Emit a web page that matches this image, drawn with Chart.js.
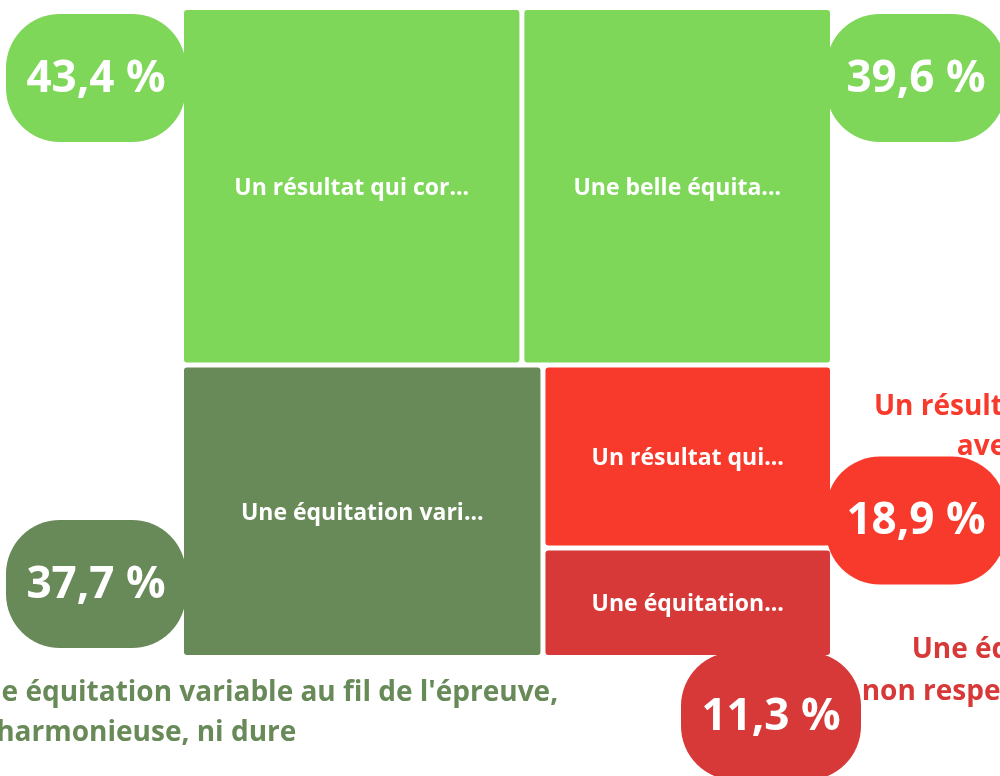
<!DOCTYPE html>
<html>
<head>
<meta charset="utf-8">
<script src="https://cdn.jsdelivr.net/npm/chart.js@4.4.0/dist/chart.umd.min.js"></script>
<style>
  html, body { margin: 0; padding: 0; background: #fff; overflow: hidden; }
  #wrap { width: 1000px; height: 776px; position: relative; }
</style>
</head>
<body>
<div id="wrap"><canvas id="treeChart"></canvas></div>
<script>
// data
const categories = [
  "Un résultat qui correspond à la prestation",
  "Une belle équitation, harmonieuse",
  "Une équitation variable au fil de l'épreuve, ni harmonieuse, ni dure",
  "Un résultat qui ne correspond pas avec la prestation vue",
  "Une équitation dure, non respectueuse du cheval"
];
const shares = [43.4, 39.6, 37.7, 18.9, 11.3];
// long labels written next to the small tiles (line breaks as in the picture)
const sideLabels = [
  [],
  [],
  ["Une équitation variable au fil de l'épreuve,", "ni harmonieuse, ni dure"],
  ["Un résultat qui ne correspond pas", "avec la prestation vue"],
  ["Une équitation dure,", "non respectueuse du cheval"]
];

const colors = ["#7ed758", "#7ed758", "#688a58", "#f73a2b", "#d63937"];
const FONT = "'Open Sans', 'Noto Sans', sans-serif";

// where each percentage bubble sits, relative to its tile
const bubblePlace = [
  { ax: "left", ay: "top", dx: 2, dy: 4 },
  { ax: "right", ay: "top", dx: -4, dy: 4 },
  { ax: "left", ay: "bottom", dx: 2, dy: -7 },
  { ax: "right", ay: "middle", dx: -4, dy: 0 },
  { ax: "center", ay: "below", dx: -59, dy: -3 }
];
// where the long label sits, relative to its bubble
const labelPlace = [
  null,
  null,
  { align: "left", dx: -44, dy: 45, lh: 40 },
  { align: "center", dx: 195, dy: -50, lh: 40 },
  { align: "center", dx: 286, dy: -2, lh: 42 }
];

function worst(row, side) {
  const s = row.reduce((a, b) => a + b, 0);
  const thick = s / side;
  let m = 0;
  row.forEach(a => {
    const len = a / thick;
    m = Math.max(m, len / thick, thick / len);
  });
  return m;
}

// plain squarified treemap in data units
function squarify(vals, x, y, w, h) {
  const total = vals.reduce((a, b) => a + b, 0);
  const areas = vals.map(v => v / total * w * h);
  const out = [];
  let i = 0;
  while (i < areas.length) {
    const horiz = w <= h;
    const side = horiz ? w : h;
    let row = [areas[i]];
    let j = i + 1;
    while (j < areas.length && worst(row.concat(areas[j]), side) <= worst(row, side)) {
      row.push(areas[j]);
      j++;
    }
    const thick = row.reduce((a, b) => a + b, 0) / side;
    let off = 0;
    row.forEach(a => {
      const len = a / thick;
      if (horiz) out.push({ x0: x + off, x1: x + off + len, y0: y, y1: y + thick });
      else out.push({ x0: x, x1: x + thick, y0: y + off, y1: y + off + len });
      off += len;
    });
    if (horiz) { y += thick; h -= thick; } else { x += thick; w -= thick; }
    i = j;
  }
  return out;
}

const tiles = squarify(shares, 0, 0, 1, 1);

function fmt(v) {
  return v.toFixed(1).replace(".", ",") + " %";
}

function fitText(ctx, text, maxW) {
  if (ctx.measureText(text).width <= maxW) return text;
  let t = text;
  while (t.length > 1 && ctx.measureText(t.trimEnd() + "...").width > maxW) {
    t = t.slice(0, -1);
  }
  return t.trimEnd() + "...";
}

function roundRect(ctx, x, y, w, h, r) {
  ctx.beginPath();
  ctx.roundRect(x, y, w, h, r);
  ctx.fill();
}

const treemapPlugin = {
  id: "treemapTiles",
  afterDatasetsDraw(chart) {
    const ctx = chart.ctx;
    const xs = chart.scales.x, ys = chart.scales.y;
    const gap = 2.5;
    const BW = 180, BH = 128, BR = 54;

    const boxes = tiles.map(t => {
      const l = xs.getPixelForValue(t.x0) + gap;
      const r = xs.getPixelForValue(t.x1) - gap;
      const top = ys.getPixelForValue(t.y0) + gap;
      const bot = ys.getPixelForValue(t.y1) - gap;
      return { l, r, top, bot, cx: (l + r) / 2, cy: (top + bot) / 2 };
    });

    const bubbles = boxes.map((b, i) => {
      const p = bubblePlace[i];
      let x0, y0;
      if (p.ax === "left") x0 = b.l + p.dx - BW;
      else if (p.ax === "right") x0 = b.r + p.dx;
      else x0 = b.r + p.dx - BW / 2;
      if (p.ay === "top") y0 = b.top + p.dy;
      else if (p.ay === "bottom") y0 = b.bot + p.dy - BH;
      else if (p.ay === "middle") y0 = b.cy + p.dy;
      else y0 = b.bot + p.dy;
      return { x0, y0, x1: x0 + BW, y1: y0 + BH, cx: x0 + BW / 2, cy: y0 + BH / 2 };
    });

    ctx.save();
    // bubbles sit behind the tiles
    bubbles.forEach((bb, i) => {
      ctx.fillStyle = colors[i];
      roundRect(ctx, bb.x0, bb.y0, BW, BH, BR);
    });

    boxes.forEach((b, i) => {
      ctx.fillStyle = colors[i];
      roundRect(ctx, b.l, b.top, b.r - b.l, b.bot - b.top, 3);
    });

    ctx.textAlign = "center";
    ctx.textBaseline = "middle";
    ctx.fillStyle = "#ffffff";
    ctx.font = "bold 23px " + FONT;
    boxes.forEach((b, i) => {
      const txt = fitText(ctx, categories[i], (b.r - b.l) * 0.70);
      ctx.fillText(txt, b.cx, b.cy + 2);
    });

    ctx.font = "bold 44px " + FONT;
    bubbles.forEach((bb, i) => {
      ctx.fillText(fmt(shares[i]), bb.cx, bb.cy + 1);
    });

    ctx.font = "bold 28px " + FONT;
    bubbles.forEach((bb, i) => {
      const lp = labelPlace[i];
      if (!lp) return;
      ctx.fillStyle = colors[i];
      ctx.textAlign = lp.align;
      const x = lp.align === "left" ? bb.x0 + lp.dx : bb.cx + lp.dx;
      const y = lp.dy >= 0 ? bb.y1 + lp.dy : bb.y0 + lp.dy;
      sideLabels[i].forEach((line, k) => ctx.fillText(line, x, y + k * lp.lh));
    });
    ctx.restore();
  }
};

const ctx = document.getElementById("treeChart").getContext("2d");
const treeChart = new Chart(ctx, {
  type: "scatter",
  data: {
    datasets: [{
      label: "Réponses",
      data: tiles.map((t, i) => ({ x: (t.x0 + t.x1) / 2, y: (t.y0 + t.y1) / 2, v: shares[i] })),
      pointRadius: 0,
      pointHoverRadius: 0
    }]
  },
  options: {
    responsive: true,
    maintainAspectRatio: false,
    animation: false,
    layout: { padding: { left: 181.5, right: 167.5, top: 7.5, bottom: 118.5 } },
    plugins: { legend: { display: false }, tooltip: { enabled: false } },
    scales: {
      x: { type: "linear", min: 0, max: 1, display: false },
      y: { type: "linear", min: 0, max: 1, reverse: true, display: false }
    }
  },
  plugins: [treemapPlugin]
});
</script>
</body>
</html>
